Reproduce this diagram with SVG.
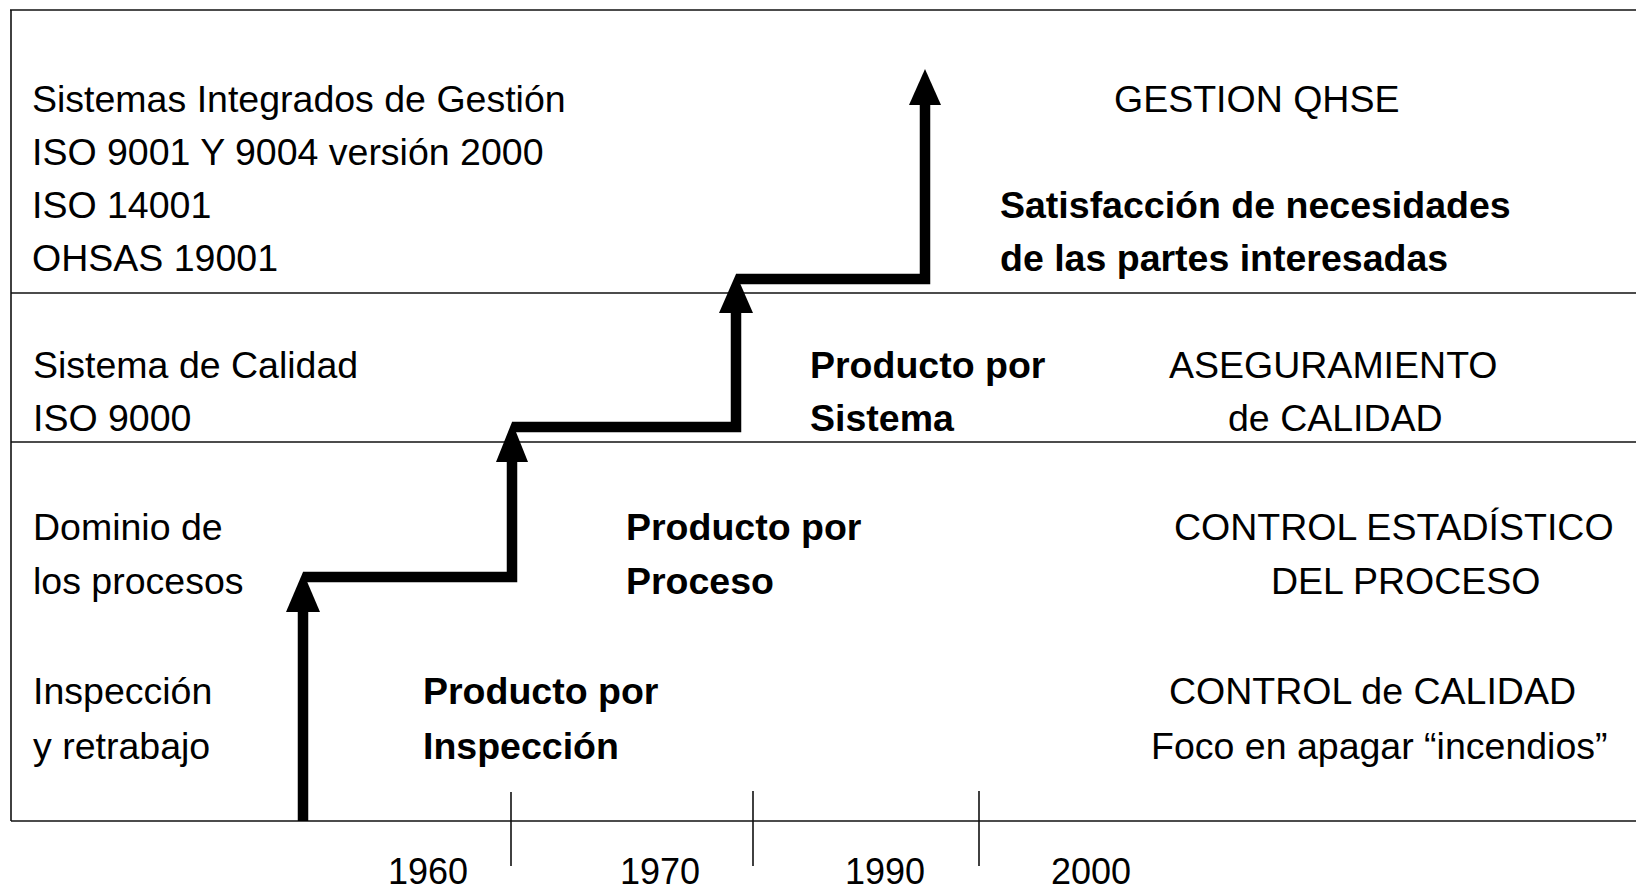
<svg xmlns="http://www.w3.org/2000/svg" width="1636" height="891" viewBox="0 0 1636 891">
<style>
  .t { font-family: "Liberation Sans", Arial, Helvetica, sans-serif; font-size: 37.5px; fill: #000; }
  .b { font-weight: bold; }
  .y { font-size: 36px; }
  .grid { stroke: #111; stroke-width: 1.6; fill: none; }
  .step { stroke: #000; stroke-width: 10.5; fill: none; stroke-linejoin: miter; stroke-linecap: butt; }
  .head { fill: #000; }
</style>
<rect x="0" y="0" width="1636" height="891" fill="#fff"/>

<g id="frame">
  <line class="grid" x1="10" y1="10" x2="1636" y2="10"/>
  <line class="grid" x1="11" y1="10" x2="11" y2="821"/>
  <line class="grid" x1="11" y1="293" x2="1636" y2="293"/>
  <line class="grid" x1="11" y1="442" x2="1636" y2="442"/>
  <line class="grid" x1="11" y1="821" x2="1636" y2="821"/>
  <line class="grid" x1="511" y1="792" x2="511" y2="866"/>
  <line class="grid" x1="753" y1="791" x2="753" y2="866"/>
  <line class="grid" x1="979" y1="791" x2="979" y2="866"/>
</g>

<g id="connectors">
  <path class="step" d="M303 821 V605"/>
  <polygon class="head" points="303,572 286,612 320,612"/>
  <path class="step" d="M303 577 H512 V455"/>
  <polygon class="head" points="512,422 496,462 528,462"/>
  <path class="step" d="M512 427 H736 V306"/>
  <polygon class="head" points="736,274 719,313 753,313"/>
  <path class="step" d="M736 279 H925 V100"/>
  <polygon class="head" points="925,69 909,105 941,105"/>
</g>

<g id="row4-left">
  <text class="t" x="32" y="112">Sistemas Integrados de Gestión</text>
  <text class="t" x="32" y="165">ISO 9001 Y 9004 versión 2000</text>
  <text class="t" x="32" y="218">ISO 14001</text>
  <text class="t" x="32" y="271">OHSAS 19001</text>
</g>
<g id="row3-left">
  <text class="t" x="33" y="378">Sistema de Calidad</text>
  <text class="t" x="33" y="431">ISO 9000</text>
</g>
<g id="row2-left">
  <text class="t" x="33" y="540">Dominio de</text>
  <text class="t" x="33" y="594">los procesos</text>
</g>
<g id="row1-left">
  <text class="t" x="33" y="704">Inspección</text>
  <text class="t" x="33" y="759">y retrabajo</text>
</g>

<g id="row1-mid">
  <text class="t b" x="423" y="704">Producto por</text>
  <text class="t b" x="423" y="759">Inspección</text>
</g>
<g id="row2-mid">
  <text class="t b" x="626" y="540">Producto por</text>
  <text class="t b" x="626" y="594">Proceso</text>
</g>
<g id="row3-mid">
  <text class="t b" x="810" y="378">Producto por</text>
  <text class="t b" x="810" y="431">Sistema</text>
</g>
<g id="row4-mid">
  <text class="t b" x="1000" y="218">Satisfacción de necesidades</text>
  <text class="t b" x="1000" y="271">de las partes interesadas</text>
</g>

<g id="row4-right">
  <text class="t" x="1114" y="112">GESTION QHSE</text>
</g>
<g id="row3-right">
  <text class="t" x="1169" y="378">ASEGURAMIENTO</text>
  <text class="t" x="1228" y="431">de CALIDAD</text>
</g>
<g id="row2-right">
  <text class="t" x="1174" y="540">CONTROL ESTADÍSTICO</text>
  <text class="t" x="1271" y="594">DEL PROCESO</text>
</g>
<g id="row1-right">
  <text class="t" x="1169" y="704">CONTROL de CALIDAD</text>
  <text class="t" x="1151" y="759">Foco en apagar “incendios”</text>
</g>

<g id="years">
  <text class="t y" x="388" y="884">1960</text>
  <text class="t y" x="620" y="884">1970</text>
  <text class="t y" x="845" y="884">1990</text>
  <text class="t y" x="1051" y="884">2000</text>
</g>
</svg>
